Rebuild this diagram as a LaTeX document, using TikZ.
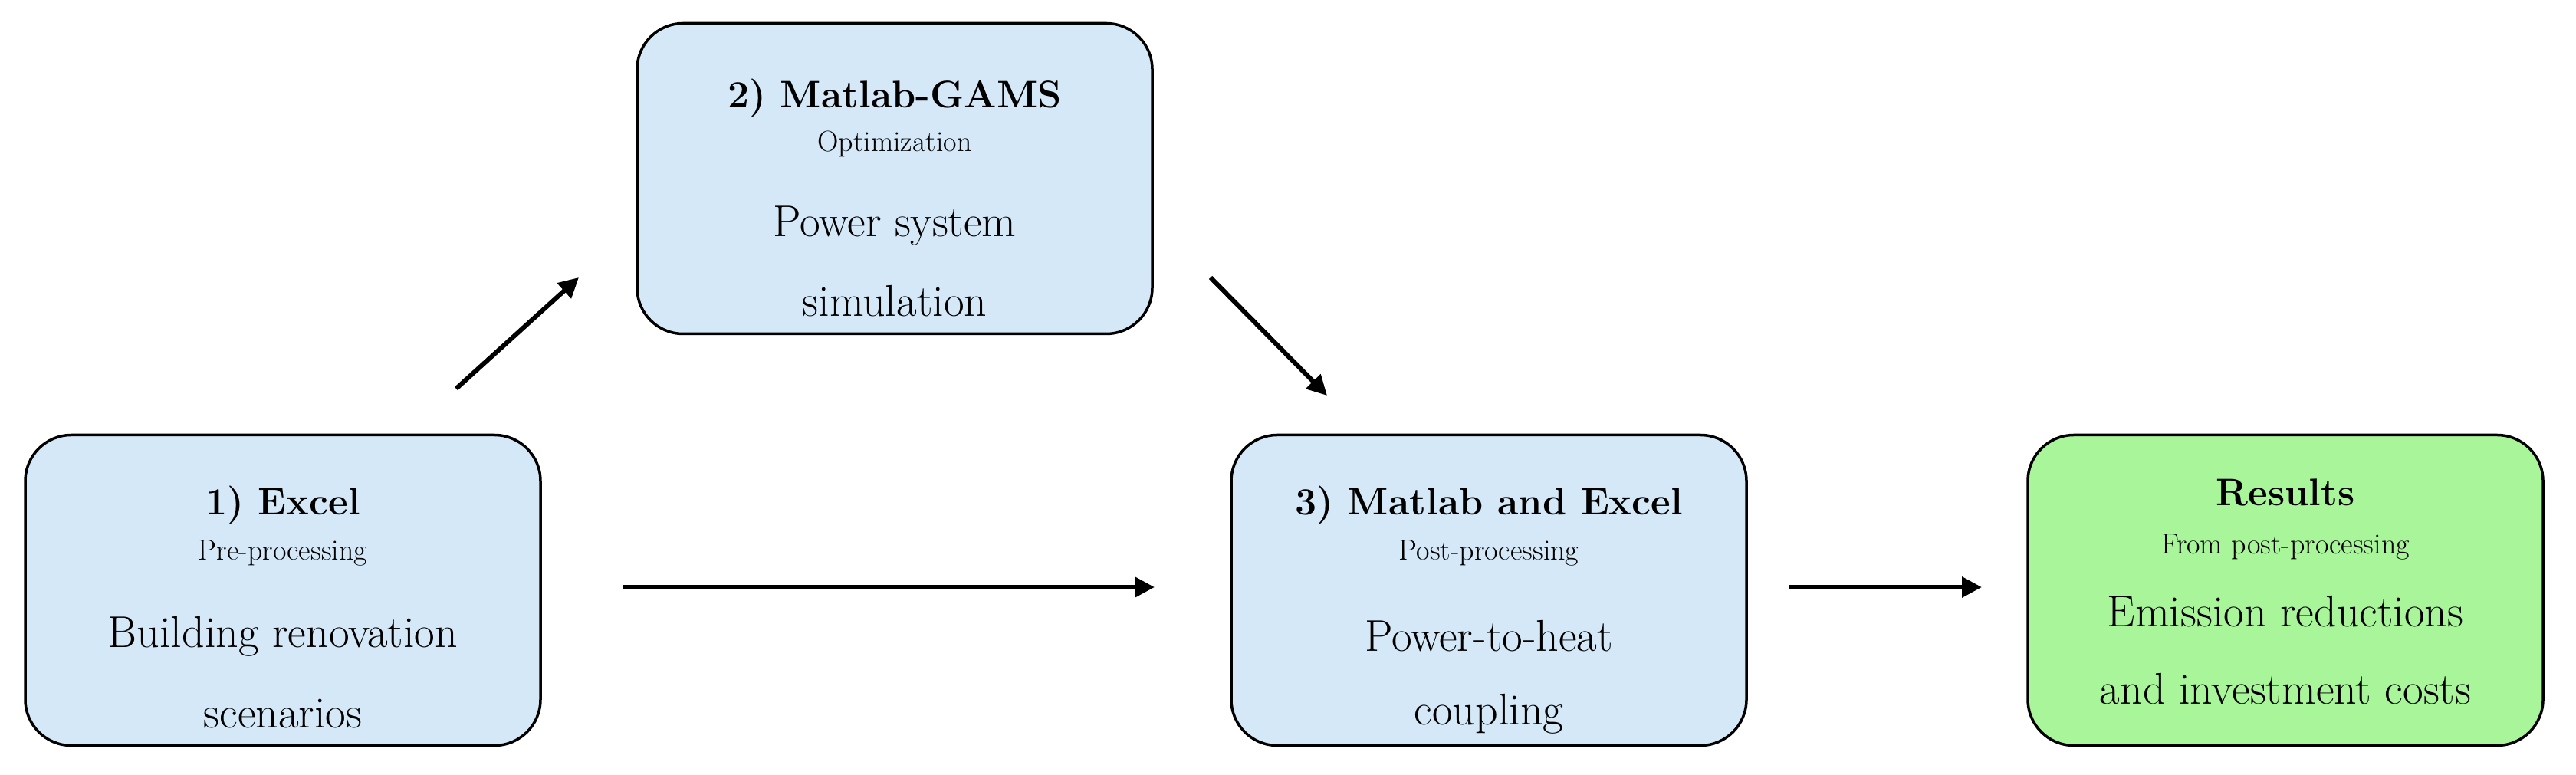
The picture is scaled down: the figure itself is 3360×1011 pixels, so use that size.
\documentclass[tikz,border=0pt]{standalone}
\usetikzlibrary{arrows.meta}
\definecolor{boxblue}{HTML}{D4E8F7}
\definecolor{boxgreen}{HTML}{A8F59A}
\begin{document}
\begin{tikzpicture}[x=1pt,y=1pt,
  box/.style={draw=black,line width=3.5pt,rounded corners=60pt,minimum width=672pt,minimum height=405pt,inner sep=0pt},
  ttl/.style={font=\fontsize{50}{60}\selectfont\bfseries,inner sep=0pt},
  sub/.style={font=\fontsize{38}{46}\selectfont,inner sep=0pt},
  body/.style={font=\fontsize{58}{70}\selectfont,inner sep=0pt},
  arr/.style={line width=6pt,-{Triangle[length=26pt,width=26pt]}}]
\useasboundingbox (0,0) rectangle (3360,1011);
\node[box,fill=boxblue] (b1) at (369,241) {};
\node[box,fill=boxblue] (b2) at (1167,778) {};
\node[box,fill=boxblue] (b3) at (1942,241) {};
\node[box,fill=boxgreen] (b4) at (2981,241) {};
% box 1
\node[ttl] (t1) at ([yshift=111pt]b1.center) {1) Excel};
\node[sub] (s1) at ([yshift=49pt]b1.center) {Pre-processing};
\node[body] (a1) at ([yshift=-60pt]b1.center) {Building renovation};
\node[body] (c1) at ([yshift=-161pt]b1.center) {scenarios};
% box 2
\node[ttl] (t2) at ([yshift=105pt]b2.center) {2) Matlab-GAMS};
\node[sub] (s2) at ([yshift=45pt]b2.center) {Optimization};
\node[body] (a2) at ([yshift=-62pt]b2.center) {Power system};
\node[body] (c2) at ([yshift=-160pt]b2.center) {simulation};
% box 3
\node[ttl] (t3) at ([yshift=111pt]b3.center) {3) Matlab and Excel};
\node[sub] (s3) at ([yshift=49pt]b3.center) {Post-processing};
\node[body] (a3) at ([yshift=-60pt]b3.center) {Power-to-heat};
\node[body] (c3) at ([yshift=-161pt]b3.center) {coupling};
% box 4
\node[ttl] (t4) at ([yshift=128pt]b4.center) {Results};
\node[sub] (s4) at ([yshift=57pt]b4.center) {From post-processing};
\node[body] (a4) at ([yshift=-28pt]b4.center) {Emission reductions};
\node[body] (c4) at ([yshift=-129pt]b4.center) {and investment costs};
% arrow endpoints
\coordinate (p1) at (595,504);
\coordinate (q1) at (755,649);
\coordinate (p2) at (1579,649);
\coordinate (q2) at (1731,495);
\coordinate (p3) at (813,245);
\coordinate (q3) at (1506,245);
\coordinate (p4) at (2333,245);
\coordinate (q4) at (2585,245);
\draw[arr] (p1) -- (q1);
\draw[arr] (p2) -- (q2);
\draw[arr] (p3) -- (q3);
\draw[arr] (p4) -- (q4);
\end{tikzpicture}
\end{document}
